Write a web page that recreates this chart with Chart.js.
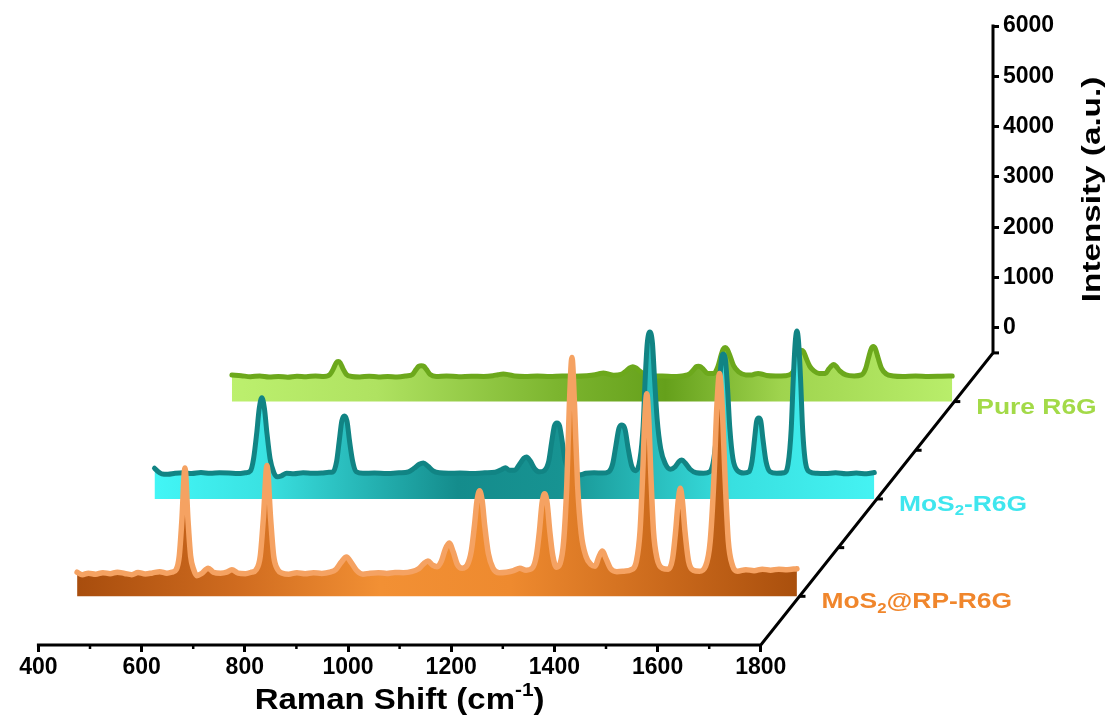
<!DOCTYPE html>
<html>
<head>
<meta charset="utf-8">
<script src="https://cdn.jsdelivr.net/npm/chart.js@4/dist/chart.umd.min.js"></script>
<style>
html,body{margin:0;padding:0;background:#fff;}
canvas{display:block;}
</style>
</head>
<body>
<canvas id="chart" width="1113" height="722"></canvas>
<script>
// ---------------- data ----------------
const xTickValues = [400, 600, 800, 1000, 1200, 1400, 1600, 1800];
const xMinorTickValues = [500, 700, 900, 1100, 1300, 1500, 1700];
const yTickValues = [0, 1000, 2000, 3000, 4000, 5000, 6000];
const seriesNames = ['MoS2@RP-R6G', 'MoS2-R6G', 'Pure R6G'];

// [Raman shift (cm-1), intensity (a.u.)]
const mosRpSpectrum = [
 [400,-20],[410,-70],[422,-40],[436,-60],[450,-30],[464,-50],[478,-20],[492,-45],[506,-70],[518,-25],
 [532,-55],[546,-35],[560,-10],[574,-40],[584,-20],[592,30],[598,300],[603,1000],[609,2050],[615,1000],
 [620,300],[626,30],[632,-90],[642,-40],[654,60],[664,-20],[678,-40],[690,-20],[700,30],[712,-40],
 [726,-50],[738,-20],[747,30],[755,300],[761,1050],[768,2100],[775,1050],[781,300],[789,30],[798,-40],
 [810,-60],[826,-30],[842,-50],[858,-30],[874,-45],[890,-20],[902,40],[912,180],[922,280],[932,160],
 [942,10],[954,-60],[968,-40],[984,-30],[1000,-45],[1016,-25],[1032,-30],[1048,-10],[1062,50],[1072,150],
 [1080,200],[1089,120],[1098,90],[1106,200],[1113,420],[1121,560],[1129,380],[1137,130],[1146,60],[1156,120],
 [1164,400],[1170,900],[1175,1400],[1180,1600],[1185,1400],[1190,900],[1197,350],[1206,60],[1218,-30],[1232,-20],
 [1246,10],[1258,60],[1270,20],[1282,60],[1290,300],[1296,800],[1301,1350],[1306,1540],[1311,1350],[1316,800],
 [1322,300],[1329,80],[1336,150],[1343,600],[1349,1700],[1354,3300],[1359,4250],[1364,3300],[1370,1700],[1377,750],
 [1386,300],[1396,130],[1404,100],[1411,280],[1418,400],[1425,250],[1434,50],[1446,-10],[1460,0],[1474,30],
 [1484,200],[1491,800],[1496,1900],[1500,3000],[1504,3530],[1508,3000],[1512,1900],[1517,800],[1524,250],[1534,60],
 [1546,40],[1554,250],[1560,800],[1565,1400],[1569,1650],[1573,1400],[1578,800],[1585,200],[1594,20],[1606,0],
 [1618,100],[1627,600],[1634,1800],[1640,3300],[1645,3930],[1650,3300],[1656,1800],[1662,600],[1670,120],[1680,0],
 [1696,30],[1712,10],[1728,40],[1744,20],[1760,40],[1776,30],[1795,50]
];
const mosSpectrum = [
 [400,110],[406,50],[414,0],[426,-10],[440,10],[456,20],[472,5],[490,25],[508,10],[526,20],
 [544,15],[562,5],[576,20],[586,60],[592,300],[598,800],[603,1300],[608,1510],[613,1300],[618,800],
 [624,300],[631,30],[638,-60],[646,-40],[656,10],[670,0],[688,20],[706,10],[724,15],[738,30],
 [746,40],[753,250],[758,650],[763,1050],[768,1150],[773,1050],[778,650],[784,250],[791,40],[804,10],
 [826,15],[850,5],[874,20],[892,40],[903,110],[913,190],[921,215],[930,150],[940,60],[952,20],
 [970,10],[992,15],[1016,5],[1040,20],[1060,30],[1072,80],[1080,120],[1088,70],[1098,70],[1108,200],
 [1116,310],[1121,335],[1128,260],[1137,100],[1146,40],[1156,70],[1164,250],[1170,650],[1175,950],[1180,1010],
 [1185,950],[1190,650],[1196,250],[1204,60],[1214,0],[1224,-20],[1236,10],[1252,20],[1268,15],[1280,40],
 [1288,200],[1294,550],[1300,900],[1306,970],[1312,880],[1318,500],[1325,150],[1333,60],[1341,300],[1347,950],
 [1351,1900],[1355,2600],[1360,2820],[1365,2600],[1369,1900],[1374,1100],[1381,500],[1390,200],[1400,90],[1409,140],
 [1416,240],[1422,275],[1429,210],[1438,90],[1450,20],[1464,10],[1476,40],[1484,300],[1490,900],[1495,1800],
 [1499,2300],[1502,2380],[1506,2300],[1510,1800],[1515,900],[1521,300],[1530,60],[1542,15],[1552,40],[1558,250],
 [1563,700],[1567,1050],[1571,1110],[1575,1050],[1579,700],[1585,250],[1593,40],[1606,10],[1620,20],[1628,200],
 [1634,900],[1638,1900],[1642,2650],[1645,2840],[1648,2650],[1652,1900],[1656,900],[1662,200],[1670,40],[1684,10],
 [1700,5],[1720,20],[1740,0],[1760,15],[1780,0],[1795,25]
];
const pureSpectrum = [
 [400,30],[418,15],[436,-5],[454,10],[472,-10],[490,0],[508,-15],[526,5],[544,-5],[562,10],
 [578,0],[590,40],[597,160],[602,270],[606,295],[610,270],[615,160],[622,40],[632,0],[648,-10],
 [666,5],[684,-10],[702,0],[720,-10],[738,10],[750,40],[757,140],[762,200],[767,215],[772,200],
 [777,140],[784,40],[796,0],[816,10],[840,-5],[864,5],[888,0],[906,15],[916,35],[926,46],
 [936,35],[948,10],[968,0],[992,10],[1016,0],[1040,10],[1064,5],[1088,15],[1104,35],[1114,60],
 [1120,66],[1127,55],[1140,25],[1154,40],[1164,110],[1171,170],[1177,195],[1183,170],[1190,110],[1200,40],
 [1214,5],[1234,10],[1256,0],[1276,15],[1288,60],[1296,150],[1300,195],[1304,205],[1308,195],[1313,150],
 [1322,60],[1334,60],[1342,200],[1348,420],[1352,540],[1356,575],[1360,540],[1365,420],[1372,220],[1382,90],
 [1396,30],[1408,30],[1414,48],[1420,56],[1426,48],[1436,20],[1454,10],[1472,15],[1484,50],[1492,180],
 [1497,360],[1501,490],[1504,520],[1508,490],[1513,360],[1520,200],[1528,110],[1538,60],[1550,60],[1557,150],
 [1562,210],[1566,235],[1571,200],[1578,110],[1590,30],[1606,10],[1620,30],[1628,150],[1634,380],[1639,550],
 [1643,593],[1647,550],[1652,380],[1659,160],[1668,50],[1682,10],[1700,0],[1725,10],[1750,0],[1775,5],
 [1796,10]
];

// ---------------- pseudo-3D layout constants ----------------
const X_MIN = 400, X_MAX = 1800;
const FLOOR = -500, I_TOP = 6000;
const DEPTH_STEPS = 6;          // ticks on depth axis
const DEPTH_DX = 75;            // shift units per depth step
const DEPTH_DY = 968;           // intensity units per depth step
const seriesDepth = [1, 3, 5];

const FONT = '"Liberation Sans", Arial, Helvetica, sans-serif';

const lineColors = ['#f5a262', '#118484', '#6ca81c'];
const lineWidths = [5.5, 5, 5];
const labelColors = ['#f0862c', '#3fe6ee', '#a3da48'];
const gradientStops = [
  [[0,'#a84d0d'],[0.22,'#cf6b1f'],[0.42,'#f29034'],[0.6,'#ee8a2f'],[0.82,'#c9681b'],[1,'#a94f0d']],
  [[0,'#42f6f6'],[0.15,'#3ae2e2'],[0.42,'#148c8c'],[0.56,'#179392'],[0.8,'#38e0e0'],[1,'#45f3f3']],
  [[0,'#bcf06e'],[0.2,'#afe261'],[0.45,'#7cb52f'],[0.6,'#65a01b'],[0.76,'#9fd44e'],[1,'#b9ee6b']]
];

function ribbonGradient(i) {
  return (context) => {
    const chart = context.chart;
    const xs = chart.scales && chart.scales.x;
    if (!chart.chartArea || !xs) return gradientStops[i][2][1];
    const k = seriesDepth[i];
    const g = chart.ctx.createLinearGradient(
      xs.getPixelForValue(X_MIN + k * DEPTH_DX), 0,
      xs.getPixelForValue(X_MAX + k * DEPTH_DX), 0);
    gradientStops[i].forEach(([o, c]) => g.addColorStop(o, c));
    return g;
  };
}

const spectra = [mosRpSpectrum, mosSpectrum, pureSpectrum];
const datasets = spectra.map((spec, i) => {
  const k = seriesDepth[i];
  return {
    label: seriesNames[i],
    data: spec.map(([s, v]) => ({ x: s + k * DEPTH_DX, y: v + k * DEPTH_DY })),
    borderColor: lineColors[i],
    backgroundColor: ribbonGradient(i),
    borderWidth: lineWidths[i],
    borderJoinStyle: 'round',
    borderCapStyle: 'round',
    pointRadius: 0,
    cubicInterpolationMode: 'monotone',
    fill: { value: FLOOR + k * DEPTH_DY }
  };
});

function drawRich(ctx, parts, x, y, size, sx, align) {
  ctx.save();
  ctx.textBaseline = 'middle';
  const fontFor = p => 'bold ' + ((p.sub || p.sup) ? Math.round(size * 0.62) : size) + 'px ' + FONT;
  const widths = parts.map(p => { ctx.font = fontFor(p); return ctx.measureText(p.t).width; });
  const total = widths.reduce((a, b) => a + b, 0) * sx;
  const cx = align === 'center' ? x - total / 2 : x;
  ctx.translate(cx, y);
  ctx.scale(sx, 1);
  let px = 0;
  parts.forEach((p, j) => {
    ctx.font = fontFor(p);
    const dy = p.sub ? size * 0.3 : (p.sup ? -size * 0.33 : 0);
    ctx.fillText(p.t, px, dy);
    px += widths[j];
  });
  ctx.restore();
}

const axes3d = {
  id: 'axes3d',
  afterDraw(chart) {
    const ctx = chart.ctx;
    const xs = chart.scales.x, ys = chart.scales.y;
    const P = (s, v, k) => [xs.getPixelForValue(s + k * DEPTH_DX), ys.getPixelForValue(v + k * DEPTH_DY)];
    ctx.save();
    ctx.strokeStyle = '#000';
    ctx.fillStyle = '#000';
    ctx.lineWidth = 3;
    ctx.lineCap = 'butt';
    const [x0, y0] = P(X_MIN, FLOOR, 0);
    const [x1, y1] = P(X_MAX, FLOOR, 0);
    const [x2, y2] = P(X_MAX, FLOOR, DEPTH_STEPS);
    const [x3, y3] = P(X_MAX, I_TOP, DEPTH_STEPS);
    ctx.beginPath();
    ctx.moveTo(x0 - 1.5, y0);
    ctx.lineTo(x1, y1);
    ctx.lineTo(x2, y2);
    ctx.lineTo(x3, y3 - 1.5);
    ctx.lineJoin = 'miter';
    ctx.stroke();
    ctx.lineWidth = 2.5;
    xMinorTickValues.forEach(v => {
      const [tx, ty] = P(v, FLOOR, 0);
      ctx.beginPath(); ctx.moveTo(tx, ty); ctx.lineTo(tx, ty + 4); ctx.stroke();
    });
    ctx.lineWidth = 3;
    for (let k = 1; k <= DEPTH_STEPS; k++) {
      const [tx, ty] = P(X_MAX, FLOOR, k);
      ctx.beginPath(); ctx.moveTo(tx, ty); ctx.lineTo(tx + 6, ty); ctx.stroke();
    }
    drawRich(ctx, [{t:'Raman Shift (cm'}, {t:'-1', sup:true}, {t:')'}], (x0 + x1) / 2, 701, 30, 1.1, 'center');
    ctx.save();
    ctx.translate(1093, (y2 + y3) / 2);
    ctx.rotate(-Math.PI / 2);
    drawRich(ctx, [{t:'Intensity (a.u.)'}], 0, 0, 25, 1.33, 'center');
    ctx.restore();
    const labelParts = [
      [{t:'MoS'}, {t:'2', sub:true}, {t:'@RP-R6G'}],
      [{t:'MoS'}, {t:'2', sub:true}, {t:'-R6G'}],
      [{t:'Pure R6G'}]
    ];
    seriesDepth.forEach((k, i) => {
      const [lx, ly] = P(X_MAX, FLOOR, k);
      ctx.fillStyle = labelColors[i];
      drawRich(ctx, labelParts[i], lx + 22, ly + 6, 22, 1.2, 'left');
    });
    ctx.restore();
  }
};

const tickFont = { family: FONT, size: 23, weight: 'bold' };
const plainNumber = (v) => String(v);

new Chart(document.getElementById('chart'), {
  type: 'line',
  data: { datasets },
  options: {
    responsive: false,
    animation: false,
    events: [],
    layout: { padding: { left: 38.4, top: 26, right: 0, bottom: 0 } },
    plugins: { legend: { display: false }, tooltip: { enabled: false } },
    scales: {
      x: {
        type: 'linear',
        min: X_MIN,
        max: X_MAX + DEPTH_STEPS * DEPTH_DX,
        afterBuildTicks: (s) => { s.ticks = xTickValues.map(v => ({ value: v })); },
        afterFit: (s) => { s.height = 77; },
        border: { display: false },
        grid: { drawOnChartArea: false, drawTicks: true, tickLength: 7, tickWidth: 3, tickColor: '#000' },
        ticks: { font: tickFont, color: '#000', padding: 2, maxRotation: 0, autoSkip: false, callback: plainNumber }
      },
      y: {
        type: 'linear',
        display: false,
        min: FLOOR,
        max: I_TOP + DEPTH_STEPS * DEPTH_DY
      },
      yI: {
        type: 'linear',
        position: 'right',
        min: FLOOR - DEPTH_STEPS * DEPTH_DY,
        max: I_TOP,
        afterBuildTicks: (s) => { s.ticks = yTickValues.map(v => ({ value: v })); },
        afterFit: (s) => { s.width = 120; },
        border: { display: false },
        grid: { drawOnChartArea: false, drawTicks: true, tickLength: 6, tickWidth: 3, tickColor: '#000' },
        ticks: { font: tickFont, color: '#000', padding: 4, autoSkip: false, callback: plainNumber }
      }
    }
  },
  plugins: [axes3d]
});
</script>
</body>
</html>
